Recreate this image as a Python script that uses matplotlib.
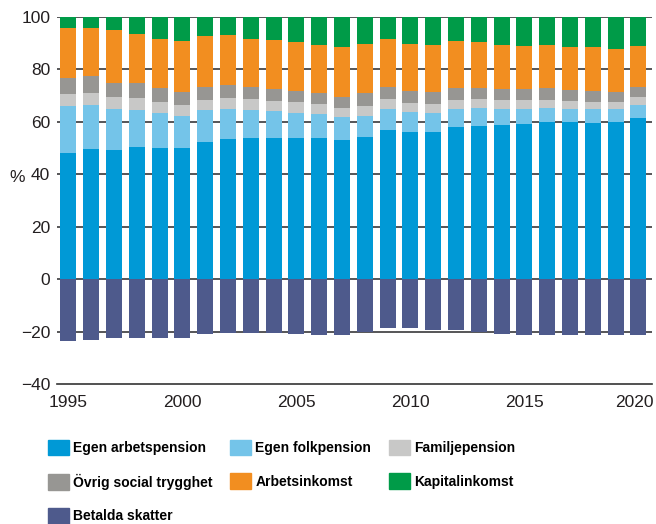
import numpy as np
import matplotlib.pyplot as plt
import matplotlib.transforms as mtransforms
from matplotlib.patches import Patch

years = list(range(1995, 2021))

# share of income, %
egen_arbetspension = [48.2, 49.7, 49.3, 50.4, 50.1, 50.1, 52.4, 53.5, 53.9, 53.9, 53.9, 53.9, 53.1,
                      54.3, 56.9, 56.2, 56.2, 58.1, 58.5, 58.9, 59.2, 60.0, 60.0, 59.6, 60.0, 61.5]
egen_folkpension = [17.9, 16.8, 15.7, 14.2, 13.3, 12.2, 12.2, 11.5, 10.7, 10.3, 9.5, 9.2, 8.8,
                    8.0, 8.1, 7.6, 7.2, 6.9, 6.9, 6.1, 5.8, 5.4, 5.0, 5.4, 5.0, 5.0]
familjepension = [4.6, 4.6, 4.6, 4.6, 4.2, 4.2, 3.8, 4.2, 4.2, 3.8, 4.2, 3.8, 3.5,
                  3.8, 3.8, 3.5, 3.5, 3.4, 3.4, 3.4, 3.4, 3.0, 3.0, 2.6, 2.6, 3.1]
ovrig_social = [6.1, 6.5, 5.3, 5.7, 5.4, 5.0, 5.0, 4.9, 4.6, 4.6, 4.2, 4.2, 4.2,
                5.0, 4.6, 4.5, 4.6, 4.6, 4.2, 4.2, 4.2, 4.6, 4.2, 4.2, 3.9, 3.8]
arbetsinkomst = [19.1, 18.3, 19.9, 18.7, 18.7, 19.1, 19.1, 18.8, 18.3, 18.4, 18.4, 18.3, 18.7,
                 18.7, 18.3, 18.0, 17.9, 17.6, 17.2, 16.8, 16.4, 16.4, 16.1, 16.5, 16.4, 15.3]
kapitalinkomst = [4.1, 4.1, 5.2, 6.4, 8.3, 9.4, 7.5, 7.1, 8.3, 9.0, 9.8, 10.6, 11.7,
                  10.2, 8.3, 10.2, 10.6, 9.4, 9.8, 10.6, 11.0, 10.6, 11.7, 11.7, 12.1, 11.3]
betalda_skatter = [-23.5, -23.1, -22.3, -22.3, -22.3, -22.3, -20.8, -20.4, -20.4, -20.4, -20.8, -21.2, -21.2,
                   -20.0, -18.8, -18.8, -19.2, -19.2, -20.0, -20.8, -21.2, -21.2, -21.2, -21.2, -21.2, -21.2]

labels = ["Egen arbetspension", "Egen folkpension", "Familjepension",
          "Övrig social trygghet", "Arbetsinkomst", "Kapitalinkomst", "Betalda skatter"]
colors = ["#0099d6", "#74c4e9", "#c8c8c7", "#979693", "#f28e20", "#009b48", "#4e5a8c"]

plt.rcParams['font.family'] = ["Liberation Sans", "DejaVu Sans"]

fig = plt.figure(figsize=(6.56, 5.24), dpi=100)
ax = fig.add_axes([0.087, 0.267, 0.907, 0.701])

stack = [egen_arbetspension, egen_folkpension, familjepension,
         ovrig_social, arbetsinkomst, kapitalinkomst]
bottom = np.zeros(len(years))
for vals, col in zip(stack, colors[:6]):
    ax.bar(years, vals, bottom=bottom, width=0.7, color=col, zorder=2)
    bottom += np.array(vals)
ax.bar(years, betalda_skatter, width=0.7, color=colors[6], zorder=2)

for g in [100, 80, 60, 40, 20, 0, -20]:
    ax.axhline(g, color="#555557", lw=1.4, zorder=1)

ax.set_xlim(1994.5, 2020.6)
ax.set_ylim(-40, 100)
ax.set_yticks(range(-40, 101, 20))
ax.set_xticks(range(1995, 2021, 5))
for s in ["top", "right", "left"]:
    ax.spines[s].set_visible(False)
ax.spines["bottom"].set_color("#333333")
ax.spines["bottom"].set_linewidth(1.2)
ax.tick_params(axis="both", length=0, labelsize=12.5, colors="#231f20")
ax.tick_params(axis="y", pad=5)
ax.tick_params(axis="x", pad=8)
fig.text(0.014, 0.662, "%", fontsize=12.5, color="#231f20", va="center")

# keep the last year label inside the figure
last = ax.get_xticklabels()[-1]
last.set_horizontalalignment("right")
last.set_transform(last.get_transform() +
                   mtransforms.ScaledTranslation(11 / 72, 0, fig.dpi_scale_trans))

handles = [Patch(color=c) for c in colors]
order = [0, 3, 6, 1, 4, 2, 5]
fig.legend([handles[i] for i in order], [labels[i] for i in order],
           ncol=3, loc="upper left", bbox_to_anchor=(0.073, 0.161),
           frameon=False, prop={"weight": "bold", "size": 10},
           borderpad=0, borderaxespad=0,
           handlelength=1.5, handleheight=1.37, handletextpad=0.3,
           columnspacing=1.3, labelspacing=1.3)

plt.savefig("out.png", dpi=100)
